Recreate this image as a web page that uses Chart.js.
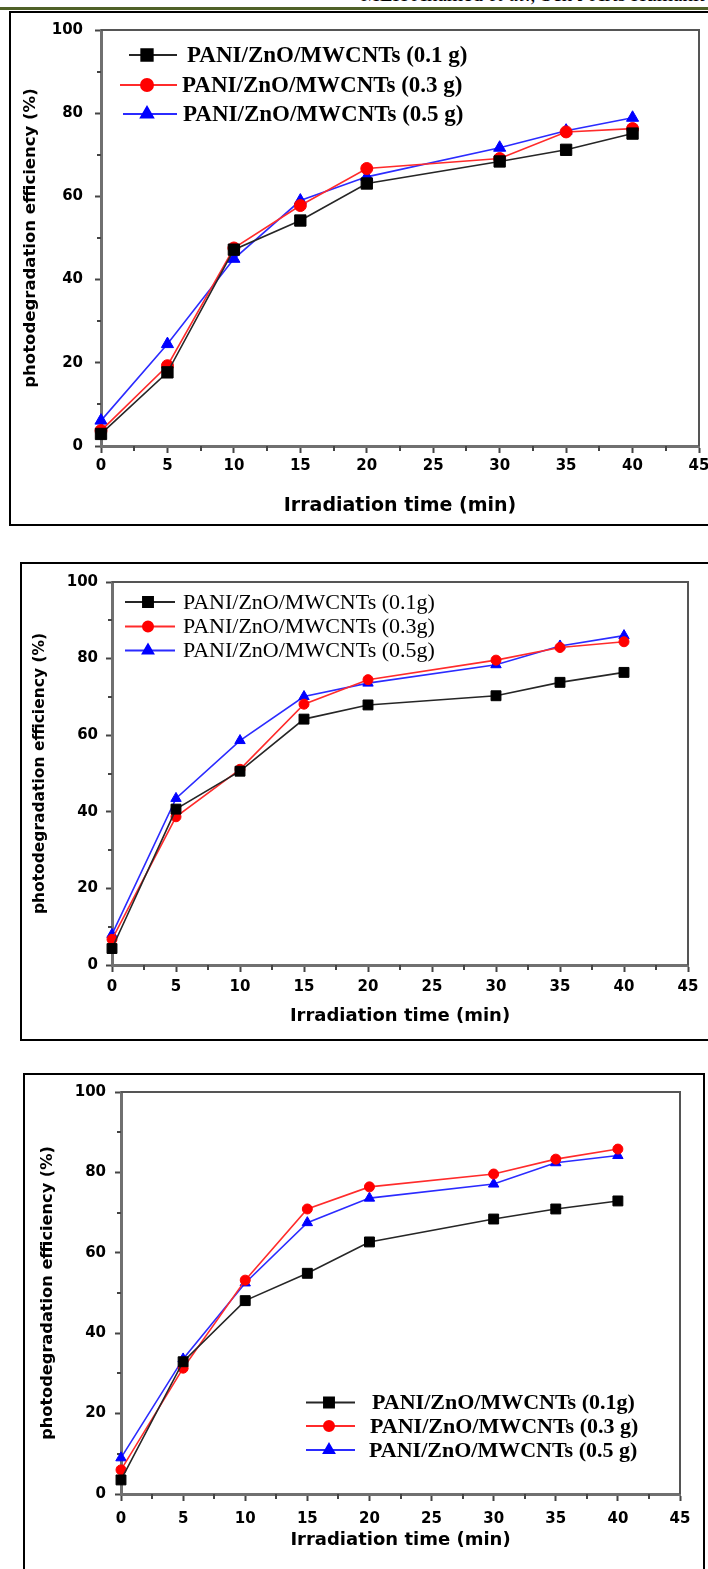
<!DOCTYPE html>
<html>
<head>
<meta charset="utf-8">
<script src="https://cdn.jsdelivr.net/npm/chart.js@4.4.0/dist/chart.umd.min.js"></script>
<style>
  html, body { margin: 0; padding: 0; background: #fff; }
  body { width: 708px; height: 1569px; position: relative; overflow: hidden; }
  .header { position: absolute; left: 361px; top: -16px; font: 21px "Liberation Serif", serif; line-height: 21px; white-space: nowrap; color: #000; }
  .rule { position: absolute; left: 0; top: 7px; width: 708px; height: 3px; background: #4f6128; }
  .box { position: absolute; border: 2px solid #000; box-sizing: border-box; }
  canvas { position: absolute; left: 0; }
</style>
</head>
<body>
<div class="header">MEH Ahamed <i>et al</i>., Sch J Arts Humanit</div>
<div class="rule"></div>
<div class="box" style="left:9px;top:11px;width:720px;height:515px"></div>
<div class="box" style="left:20px;top:562px;width:720px;height:479px"></div>
<div class="box" style="left:23px;top:1073px;width:682px;height:520px"></div>
<canvas id="chart1" width="708" height="514" style="top:12px"></canvas>
<canvas id="chart2" width="708" height="477" style="top:563px"></canvas>
<canvas id="chart3" width="708" height="495" style="top:1074px"></canvas>
<script>
// irradiation time (min)
const times = [0, 5, 10, 15, 20, 30, 35, 40];

// axis ticks
const xTickValues = [0, 5, 10, 15, 20, 25, 30, 35, 40, 45];
const yTickValues = [0, 20, 40, 60, 80, 100];
const xMinorTicks = [2.5, 7.5, 12.5, 17.5, 22.5, 27.5, 32.5, 37.5, 42.5];
const yMinorTicks = [10, 30, 50, 70, 90];

// panel 1
const p1_01 = [2.9, 17.7, 47.2, 54.2, 63.1, 68.4, 71.2, 75.1];
const p1_03 = [3.7, 19.3, 47.6, 57.8, 66.7, 69.1, 75.5, 76.3];
const p1_05 = [6.1, 24.5, 45.0, 59.0, 64.7, 71.7, 75.8, 78.9];
const p1_labels = ['PANI/ZnO/MWCNTs (0.1 g)', 'PANI/ZnO/MWCNTs (0.3 g)', 'PANI/ZnO/MWCNTs (0.5 g)'];

// panel 2
const p2_01 = [4.3, 40.7, 50.6, 64.2, 67.9, 70.3, 73.8, 76.4];
const p2_03 = [6.7, 38.7, 51.1, 68.1, 74.5, 79.6, 82.9, 84.4];
const p2_05 = [8.0, 43.5, 58.6, 70.1, 73.6, 78.4, 83.3, 86.0];
const p2_labels = ['PANI/ZnO/MWCNTs (0.1g)', 'PANI/ZnO/MWCNTs (0.3g)', 'PANI/ZnO/MWCNTs (0.5g)'];

// panel 3
const p3_01 = [3.5, 32.9, 48.1, 54.9, 62.7, 68.4, 70.9, 72.9];
const p3_03 = [6.0, 31.3, 53.2, 70.9, 76.4, 79.6, 83.3, 85.8];
const p3_05 = [9.0, 33.6, 52.5, 67.5, 73.6, 77.1, 82.4, 84.2];
const p3_labels = ['PANI/ZnO/MWCNTs (0.1g)', 'PANI/ZnO/MWCNTs (0.3 g)', 'PANI/ZnO/MWCNTs (0.5 g)'];

Chart.defaults.font.family = '"DejaVu Sans", sans-serif';
Chart.defaults.color = '#000';

// top/right frame + minor ticks
const framePlugin = {
    id: 'frame',
    beforeDatasetsDraw(chart) {
        const { ctx, chartArea: a, scales } = chart;
        ctx.save();
        ctx.strokeStyle = '#555';
        ctx.lineWidth = 2;
        ctx.beginPath();
        ctx.moveTo(a.left, a.top);
        ctx.lineTo(a.right, a.top);
        ctx.lineTo(a.right, a.bottom);
        ctx.stroke();

        ctx.strokeStyle = '#444';
        ctx.lineWidth = 2;
        ctx.beginPath();
        xMinorTicks.forEach(v => {
            const px = Math.round(scales.x.getPixelForValue(v));
            ctx.moveTo(px, a.bottom);
            ctx.lineTo(px, a.bottom + 5);
        });
        yMinorTicks.forEach(v => {
            const py = Math.round(scales.y.getPixelForValue(v));
            ctx.moveTo(a.left, py);
            ctx.lineTo(a.left - 4, py);
        });
        ctx.stroke();
        ctx.restore();
    }
};

// legend drawn inside the plot
const legendPlugin = {
    id: 'inlineLegend',
    afterDatasetsDraw(chart, args, opts) {
        const ctx = chart.ctx;
        chart.data.datasets.forEach((ds, i) => {
            const yy = opts.rows[i];
            ctx.save();
            ctx.strokeStyle = ds.borderColor;
            ctx.lineWidth = 2;
            ctx.beginPath();
            ctx.moveTo(opts.lineFrom[i], yy);
            ctx.lineTo(opts.lineTo, yy);
            ctx.stroke();
            ctx.fillStyle = ds.pointBackgroundColor;
            ctx.strokeStyle = ds.pointBorderColor;
            Chart.helpers.drawPoint(ctx, {
                pointStyle: ds.pointStyle, radius: ds.pointRadius, rotation: 0, borderWidth: 1
            }, opts.markerX, yy);
            ctx.fillStyle = '#000';
            ctx.font = opts.font;
            ctx.textBaseline = 'middle';
            ctx.textAlign = 'left';
            ctx.fillText(ds.label, opts.textX[i], yy + 1);
            ctx.restore();
        });
    }
};

function pairs(values) {
    return times.map((t, i) => ({ x: t, y: values[i] }));
}

function makeChart(id, series, labels, g) {
    const styles = [
        { line: '#262626', fill: '#000000', shape: 'rect', r: g.rectR },
        { line: '#ff2b2b', fill: '#ff0000', shape: 'circle', r: g.circR },
        { line: '#2b2bff', fill: '#0000ff', shape: 'triangle', r: g.triR }
    ];
    const datasets = series.map((vals, i) => ({
        label: labels[i],
        data: pairs(vals),
        borderColor: styles[i].line,
        borderWidth: 1.6,
        pointStyle: styles[i].shape,
        pointRadius: styles[i].r,
        pointBackgroundColor: styles[i].fill,
        pointBorderColor: styles[i].fill,
        pointBorderWidth: 1,
        tension: 0,
        clip: false
    }));

    new Chart(document.getElementById(id).getContext('2d'), {
        type: 'line',
        data: { datasets: datasets },
        options: {
            responsive: false,
            animation: false,
            events: [],
            layout: { padding: { left: g.padLeft, top: g.padTop, right: g.padRight, bottom: g.padBottom } },
            plugins: {
                legend: { display: false },
                tooltip: { enabled: false },
                inlineLegend: g.legend
            },
            scales: {
                x: {
                    type: 'linear',
                    min: 0,
                    max: 45,
                    afterBuildTicks: s => { s.ticks = xTickValues.map(v => ({ value: v })); },
                    afterFit: s => { s.height = g.xHeight; s.paddingLeft = 0; s.paddingRight = 0; },
                    ticks: { font: { size: 15, weight: 'bold' }, color: '#000', padding: g.xTickPad, maxRotation: 0 },
                    grid: { drawOnChartArea: false, drawTicks: true, tickLength: 7, tickColor: '#444', tickWidth: 2 },
                    border: { display: true, color: '#707070', width: 3 },
                    title: {
                        display: true, text: 'Irradiation time (min)', color: '#000', padding: 0,
                        font: { size: g.xTitleSize, weight: 'bold' }
                    }
                },
                y: {
                    min: 0,
                    max: 100,
                    afterBuildTicks: s => { s.ticks = yTickValues.map(v => ({ value: v })); },
                    afterFit: s => { s.width = g.yWidth; s.paddingTop = 0; s.paddingBottom = 0; },
                    ticks: { font: { size: 15, weight: 'bold' }, color: '#000', padding: g.yTickPad },
                    grid: { drawOnChartArea: false, drawTicks: true, tickLength: 6, tickColor: '#444', tickWidth: 2 },
                    border: { display: true, color: '#707070', width: 3 },
                    title: {
                        display: true, text: 'photodegradation efficiency (%)', color: '#000', padding: 0,
                        font: { size: g.yTitleSize, weight: 'bold' }
                    }
                }
            }
        },
        plugins: [framePlugin, legendPlugin]
    });
}

makeChart('chart1', [p1_01, p1_03, p1_05], p1_labels, {
    padLeft: 21, padTop: 18, padRight: 5, padBottom: 9,
    yWidth: 80, xHeight: 71, xTickPad: 4, yTickPad: 12,
    xTitleSize: 19, yTitleSize: 16.5,
    rectR: 8, circR: 6, triR: 7,
    legend: {
        rows: [43, 73, 102], lineFrom: [129, 120, 123], lineTo: 177, markerX: 147,
        textX: [187, 182, 183], font: 'bold 23px "Liberation Serif", serif'
    }
});

makeChart('chart2', [p2_01, p2_03, p2_05], p2_labels, {
    padLeft: 31, padTop: 19, padRight: 20, padBottom: 13,
    yWidth: 81, xHeight: 62, xTickPad: 6, yTickPad: 8,
    xTitleSize: 18, yTitleSize: 15.5,
    rectR: 7, circR: 5, triR: 6,
    legend: {
        rows: [39, 63.5, 87.5], lineFrom: [125, 125, 125], lineTo: 175, markerX: 148,
        textX: [183, 183, 183], font: '22px "Liberation Serif", serif'
    }
});

makeChart('chart3', [p3_01, p3_03, p3_05], p3_labels, {
    padLeft: 38, padTop: 18, padRight: 28, padBottom: 18,
    yWidth: 83, xHeight: 57, xTickPad: 9, yTickPad: 9,
    xTitleSize: 18, yTitleSize: 16.2,
    rectR: 7, circR: 5, triR: 6,
    legend: {
        rows: [328.5, 352, 376], lineFrom: [306, 306, 306], lineTo: 355, markerX: 329,
        textX: [372, 370, 369], font: 'bold 22px "Liberation Serif", serif'
    }
});
</script>
</body>
</html>
